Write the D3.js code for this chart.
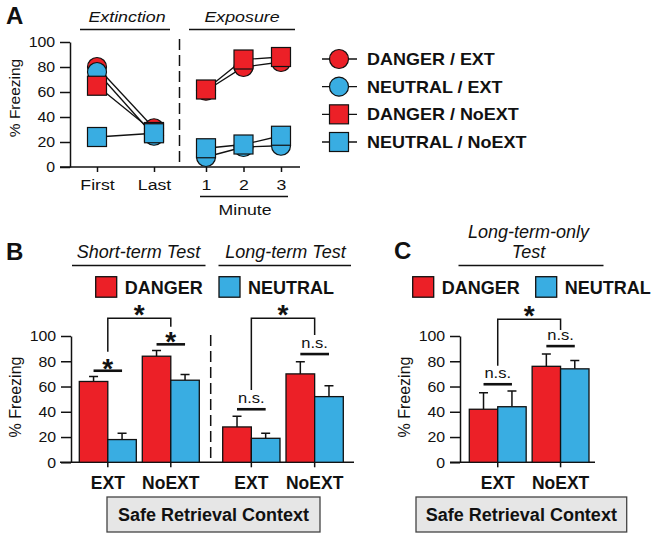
<!DOCTYPE html>
<html>
<head>
<meta charset="utf-8">
<script src="https://cdn.jsdelivr.net/npm/d3@7"></script>
<style>
  body { margin: 0; background: #fff; }
  svg { display: block; font-family: "Liberation Sans", Arial, sans-serif; }
</style>
</head>
<body>
<svg id="fig" width="656" height="539"></svg>
<script>
const RED = '#ec2027', BLUE = '#39ade2';

// ---- panel A data ----
const phases = ['First', 'Last'];
const minutes = ['1', '2', '3'];
const seriesA = ['DANGER / EXT', 'NEUTRAL / EXT', 'DANGER / NoEXT', 'NEUTRAL / NoEXT'];
const seriesColor = [RED, BLUE, RED, BLUE];
const seriesShape = ['circle', 'circle', 'square', 'square'];
const extinctionVals = [[80, 31], [76, 25], [65, 28], [24, 27]];
const exposureVals = [[61, 80, 84], [8, 16, 17], [62, 86, 88], [15, 18, 25]];

// ---- panels B / C data ----
const groups = ['EXT', 'NoEXT'];
const cues = ['DANGER', 'NEUTRAL'];
const yTicks = [0, 20, 40, 60, 80, 100];
const shortDanger = [64, 84], shortDangerErr = [4, 4.5];
const shortNeutral = [18, 65], shortNeutralErr = [5, 4.6];
const longDanger = [28, 70], longDangerErr = [8.5, 9.7];
const longNeutral = [19, 52], longNeutralErr = [4, 8.6];
const onlyDanger = [42, 76], onlyDangerErr = [13, 9.8];
const onlyNeutral = [44, 74], onlyNeutralErr = [12.4, 6.6];
// significance: [label, line height (% units)] per group, bracket [top, left leg end, right leg end]
const shortSig = [['*', 72.5], ['*', 93.4]], shortBracket = [114, 87.5, 107.4];
const longSig = [['n.s.', 42], ['n.s.', 85.7]], longBracket = [114, 57.2, 100.8];
const onlySig = [['n.s.', 61.8], ['n.s.', 92]], onlyBracket = [113.2, 76.5, 104.7];

const svg = d3.select('#fig');

function txt(g, x, y, s, o = {}) {
  return g.append('text')
    .attr('transform', `translate(${x},${y}) scale(${o.sx || 1},1)` + (o.rot ? ` rotate(${o.rot})` : ''))
    .attr('text-anchor', o.anchor || 'middle')
    .attr('font-size', o.size || 15)
    .attr('font-weight', o.weight || 'normal')
    .attr('font-style', o.style || 'normal')
    .attr('fill', '#111')
    .text(s);
}
function hline(g, x1, x2, y, w = 1.5) {
  g.append('line').attr('x1', x1).attr('x2', x2).attr('y1', y).attr('y2', y)
    .attr('stroke', '#111').attr('stroke-width', w);
}
function yAxis(g, x, y) {
  const ax = g.append('g').attr('transform', `translate(${x},0)`)
    .call(d3.axisLeft(y).tickValues(yTicks).tickSize(10).tickSizeOuter(0).tickPadding(4));
  ax.attr('font-family', null).attr('font-size', 15);
  ax.selectAll('path, line').attr('stroke', '#111').attr('stroke-width', 1.5);
  ax.selectAll('text').attr('fill', '#111').attr('transform', 'scale(1.06,1)');
}
function marker(g, shape, cx, cy, color, size = 19) {
  if (shape === 'circle') {
    g.append('circle').attr('cx', cx).attr('cy', cy).attr('r', size / 2)
      .attr('fill', color).attr('stroke', '#111').attr('stroke-width', 1.2);
  } else {
    g.append('rect').attr('x', cx - size / 2).attr('y', cy - size / 2)
      .attr('width', size).attr('height', size)
      .attr('fill', color).attr('stroke', '#111').attr('stroke-width', 1.2);
  }
}

// ================= Panel A =================
const gA = svg.append('g');
const yA = d3.scaleLinear().domain([0, 100]).range([167, 42]);
const xPhase = d3.scalePoint().domain(phases).range([97, 154]);
const xMin = d3.scalePoint().domain(minutes).range([206, 281]);

txt(gA, 6, 24, 'A', { anchor: 'start', size: 24, weight: 'bold' });
txt(gA, 127, 22, 'Extinction', { size: 15.5, style: 'italic', sx: 1.15 });
txt(gA, 242, 22, 'Exposure', { size: 15.5, style: 'italic', sx: 1.15 });
hline(gA, 80, 170, 29.5);
hline(gA, 189, 295, 29.5);

hline(gA, 60, 300, yA(0));
yAxis(gA, 70, yA);
txt(gA, 20, 98, '% Freezing', { size: 15.5, rot: -90 });

gA.append('line').attr('x1', 179.5).attr('x2', 179.5).attr('y1', 39).attr('y2', yA(0))
  .attr('stroke', '#111').attr('stroke-width', 1.5).attr('stroke-dasharray', '11,5');

[xPhase, xMin].forEach(sc => {
  const ax = gA.append('g').attr('transform', `translate(0,${yA(0)})`)
    .call(d3.axisBottom(sc).tickSize(5).tickPadding(7));
  ax.select('.domain').remove();
  ax.attr('font-family', null).attr('font-size', 15.5);
  ax.selectAll('line').attr('stroke', '#111').attr('stroke-width', 1.5);
  ax.selectAll('text').attr('fill', '#111').attr('transform', 'scale(1.14,1)');
});
hline(gA, 200, 288, 196.5);
txt(gA, 245, 214.5, 'Minute', { size: 15.5, sx: 1.14 });

const lineA = d3.line().x(d => d[0]).y(d => yA(d[1]));
seriesA.forEach((s, i) => {
  gA.append('path').attr('fill', 'none').attr('stroke', '#111').attr('stroke-width', 1.3)
    .attr('d', lineA(phases.map((p, j) => [xPhase(p), extinctionVals[i][j]])));
  gA.append('path').attr('fill', 'none').attr('stroke', '#111').attr('stroke-width', 1.3)
    .attr('d', lineA(minutes.map((m, j) => [xMin(m), exposureVals[i][j]])));
});
seriesA.forEach((s, i) => {
  phases.forEach((p, j) => marker(gA, seriesShape[i], xPhase(p), yA(extinctionVals[i][j]), seriesColor[i]));
  minutes.forEach((m, j) => marker(gA, seriesShape[i], xMin(m), yA(exposureVals[i][j]), seriesColor[i]));
});

// legend A
const legY = d3.scalePoint().domain(seriesA).range([59, 142]);
seriesA.forEach((s, i) => {
  const y = legY(s);
  hline(gA, 322, 357, y, 1.3);
  marker(gA, seriesShape[i], 339, y, seriesColor[i]);
  txt(gA, 367, y + 6, s, { anchor: 'start', size: 16.5, weight: 'bold', sx: 1.09 });
});

// ================= Panels B & C =================
const yB = d3.scaleLinear().domain([0, 100]).range([462.3, 336]);

function legendCues(g, x0, x1, y) {
  [[x0, RED, 'DANGER'], [x1, BLUE, 'NEUTRAL']].forEach(([x, c, s]) => {
    g.append('rect').attr('x', x).attr('y', y).attr('width', 21).attr('height', 20.5)
      .attr('fill', c).attr('stroke', '#111').attr('stroke-width', 1.3);
    txt(g, x + 29, y + 17.5, s, { anchor: 'start', size: 18, weight: 'bold' });
  });
}

function barSection(g, range, danger, dangerErr, neutral, neutralErr, sig, bracket) {
  const xg = d3.scaleBand().domain(groups).range(range).paddingInner(0.095);
  const xc = d3.scaleBand().domain(cues).range([0, xg.bandwidth()]);
  const rows = groups.map((grp, i) => [
    { grp, cue: 'DANGER', v: danger[i], e: dangerErr[i] },
    { grp, cue: 'NEUTRAL', v: neutral[i], e: neutralErr[i] }
  ]).flat();
  const bx = d => xg(d.grp) + xc(d.cue);
  const mid = d => bx(d) + xc.bandwidth() / 2;
  // error bars (one-sided)
  g.selectAll(null).data(rows).enter().append('path')
    .attr('fill', 'none').attr('stroke', '#111').attr('stroke-width', 1.5)
    .attr('d', d => `M${mid(d)},${yB(d.v)}V${yB(d.v + d.e)}M${mid(d) - 4.5},${yB(d.v + d.e)}H${mid(d) + 4.5}`);
  g.selectAll(null).data(rows).enter().append('rect')
    .attr('x', bx).attr('width', xc.bandwidth())
    .attr('y', d => yB(d.v)).attr('height', d => yB(0) - yB(d.v))
    .attr('fill', d => d.cue === 'DANGER' ? RED : BLUE)
    .attr('stroke', '#111').attr('stroke-width', 1.3);
  // x axis ticks + labels
  const ax = g.append('g').attr('transform', `translate(0,${yB(0)})`)
    .call(d3.axisBottom(xg).tickSize(5).tickPadding(9));
  ax.select('.domain').remove();
  ax.attr('font-family', null).attr('font-size', 17.5).attr('font-weight', 'bold');
  ax.selectAll('line').attr('stroke', '#111').attr('stroke-width', 1.5);
  ax.selectAll('text').attr('fill', '#111');
  // within-group significance
  groups.forEach((grp, i) => {
    const c = xg(grp) + xg.bandwidth() / 2, half = xc.bandwidth() / 2;
    const [lab, h] = sig[i];
    hline(g, c - half, c + half, yB(h), 2.6);
    if (lab === '*') txt(g, c, yB(h) + 7, '*', { size: 28, weight: 'bold' });
    else txt(g, c, yB(h) - 6, lab, { size: 14.5, sx: 1.14 });
  });
  // between-group bracket
  const cL = xg('EXT') + xg.bandwidth() / 2, cR = xg('NoEXT') + xg.bandwidth() / 2;
  g.append('path').attr('fill', 'none').attr('stroke', '#111').attr('stroke-width', 1.5)
    .attr('d', `M${cL},${yB(bracket[1])}V${yB(bracket[0])}H${cR}V${yB(bracket[2])}`);
  txt(g, (cL + cR) / 2, yB(bracket[0]) + 6, '*', { size: 28, weight: 'bold' });
}

function contextBox(g, x1, x2) {
  g.append('rect').attr('x', x1).attr('y', 497).attr('width', x2 - x1).attr('height', 35)
    .attr('fill', '#e6e6e6').attr('stroke', '#444').attr('stroke-width', 1.3);
  txt(g, (x1 + x2) / 2, 520.5, 'Safe Retrieval Context', { size: 18, weight: 'bold' });
}

// ---- Panel B ----
const gB = svg.append('g');
txt(gB, 6, 260, 'B', { anchor: 'start', size: 24, weight: 'bold' });
txt(gB, 138.5, 258, 'Short-term Test', { size: 18, style: 'italic' });
txt(gB, 285.5, 258, 'Long-term Test', { size: 18, style: 'italic' });
hline(gB, 72, 205.5, 265.5);
hline(gB, 218.5, 351, 265.5);
legendCues(gB, 95.7, 219, 276.7);
hline(gB, 60, 354, yB(0));
yAxis(gB, 71, yB);
txt(gB, 21, 397, '% Freezing', { size: 16, rot: -90 });
gB.append('line').attr('x1', 210.7).attr('x2', 210.7).attr('y1', 335).attr('y2', yB(0))
  .attr('stroke', '#111').attr('stroke-width', 1.5).attr('stroke-dasharray', '11,5');
barSection(gB, [79.3, 199.3], shortDanger, shortDangerErr, shortNeutral, shortNeutralErr, shortSig, shortBracket);
barSection(gB, [222.7, 343.3], longDanger, longDangerErr, longNeutral, longNeutralErr, longSig, longBracket);
contextBox(gB, 107, 320);

// ---- Panel C ----
const gC = svg.append('g');
txt(gC, 394, 258.5, 'C', { anchor: 'start', size: 24, weight: 'bold' });
txt(gC, 528.5, 238, 'Long-term-only', { size: 18, style: 'italic' });
txt(gC, 528.5, 258, 'Test', { size: 18, style: 'italic' });
hline(gC, 458.5, 603.5, 265.5);
legendCues(gC, 412.7, 535.7, 276.7);
hline(gC, 450, 595, yB(0));
yAxis(gC, 460, yB);
txt(gC, 410, 397, '% Freezing', { size: 16, rot: -90 });
barSection(gC, [469.3, 589], onlyDanger, onlyDangerErr, onlyNeutral, onlyNeutralErr, onlySig, onlyBracket);
contextBox(gC, 416, 626.7);
</script>
</body>
</html>
